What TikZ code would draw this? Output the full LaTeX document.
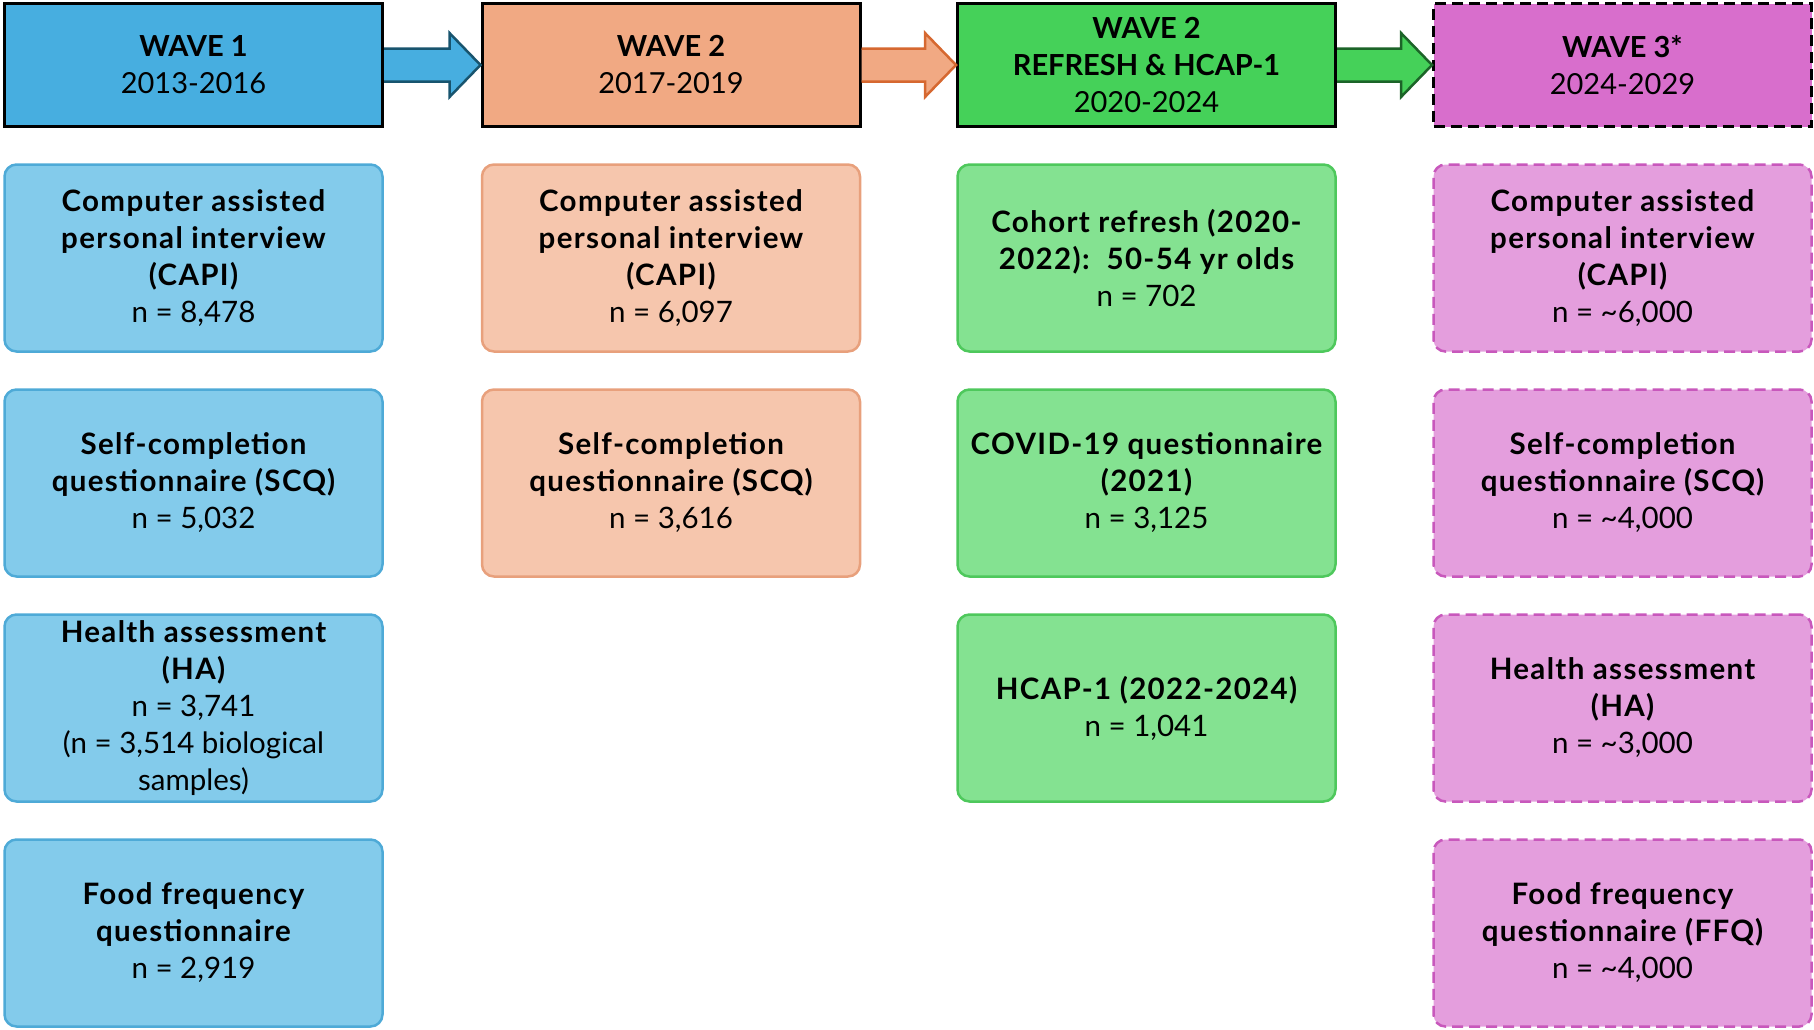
\documentclass[tikz,border=0pt]{standalone}
\usepackage{fontspec}
\setmainfont{Lato}
\newfontfamily\boxfont{Lato}[BoldFeatures={LetterSpace=4.5}]
\usetikzlibrary{calc}

\definecolor{oneHead}{RGB}{71,174,224}
\definecolor{oneBox}{RGB}{131,203,235}
\definecolor{oneLine}{RGB}{78,170,215}
\definecolor{oneArrow}{RGB}{24,84,110}
\definecolor{twoHead}{RGB}{241,169,131}
\definecolor{twoBox}{RGB}{246,198,173}
\definecolor{twoLine}{RGB}{232,160,124}
\definecolor{twoArrow}{RGB}{214,104,48}
\definecolor{refHead}{RGB}{69,209,89}
\definecolor{refBox}{RGB}{132,226,145}
\definecolor{refLine}{RGB}{78,200,92}
\definecolor{refArrow}{RGB}{28,100,40}
\definecolor{threeHead}{RGB}{216,110,204}
\definecolor{threeBox}{RGB}{228,158,221}
\definecolor{threeLine}{RGB}{200,88,188}

\tikzset{
  wavehead/.style={draw=black, line width=3pt, minimum width=378pt, minimum height=123pt,
    inner sep=0pt, align=center, font=\fontsize{29}{37}\selectfont\bfseries},
  wavebox/.style={rounded corners=12pt, line width=2.5pt, minimum width=378pt, minimum height=187pt,
    inner sep=0pt, align=center, font=\boxfont\fontsize{29.5}{37}\selectfont\bfseries},
  planned/.style={dash pattern=on 11pt off 6pt},
}

% block arrow between two header nodes
\newcommand{\wavearrow}[4]{%
  \draw[draw=#4, fill=#3, line width=2.5pt, line join=miter] let \p1=(#1.east), \p2=(#2.west) in
    (\x1,\y1+16.5pt) -- (\x2-31pt,\y1+16.5pt) -- (\x2-31pt,\y1+32pt) -- (\x2,\y1)
    -- (\x2-31pt,\y1-32pt) -- (\x2-31pt,\y1-16.5pt) -- (\x1,\y1-16.5pt);}

\begin{document}
\begin{tikzpicture}[x=1pt,y=1pt,yscale=-1]
\useasboundingbox (0,0) rectangle (1814,1029);

%Headers
\node [wavehead, fill=oneHead] (wone) at (193.5,65) {WAVE 1\\\mdseries 2013-2016};
\node [wavehead, fill=twoHead] (wtwo) at (671,65) {WAVE 2\\\mdseries 2017-2019};
\node [wavehead, fill=refHead] (wref) at (1146.5,65) {WAVE 2\\REFRESH \& HCAP-1\\\mdseries 2020-2024};
\node [wavehead, planned, fill=threeHead] (wthree) at (1622.5,65) {WAVE 3*\\\mdseries 2024-2029};

%Arrows
\wavearrow{wone}{wtwo}{oneHead}{oneArrow}
\wavearrow{wtwo}{wref}{twoHead}{twoArrow}
\wavearrow{wref}{wthree}{refHead}{refArrow}

%Wave 1 boxes
\node [wavebox, fill=oneBox, draw=oneLine] (onecapi) at (193.5,258) {Computer assisted\\personal interview\\(CAPI)\\\mdseries n = 8,478};
\node [wavebox, fill=oneBox, draw=oneLine] (onescq) at (193.5,483) {Self-completion\\questionnaire (SCQ)\\\mdseries n = 5,032};
\node [wavebox, fill=oneBox, draw=oneLine] (oneha) at (193.5,708) {Health assessment\\(HA)\\\mdseries n = 3,741\\\mdseries (n = 3,514 biological\\\mdseries samples)};
\node [wavebox, fill=oneBox, draw=oneLine] (oneffq) at (193.5,933) {Food frequency\\questionnaire\\\mdseries n = 2,919};

%Wave 2 boxes
\node [wavebox, fill=twoBox, draw=twoLine] (twocapi) at (671,258) {Computer assisted\\personal interview\\(CAPI)\\\mdseries n = 6,097};
\node [wavebox, fill=twoBox, draw=twoLine] (twoscq) at (671,483) {Self-completion\\questionnaire (SCQ)\\\mdseries n = 3,616};

%Wave 2 refresh boxes
\node [wavebox, fill=refBox, draw=refLine] (refcohort) at (1146.5,258) {Cohort refresh (2020-\\2022):\ \ 50-54 yr olds\\\mdseries n = 702};
\node [wavebox, fill=refBox, draw=refLine] (refcovid) at (1146.5,483) {COVID-19 questionnaire\\(2021)\\\mdseries n = 3,125};
\node [wavebox, fill=refBox, draw=refLine] (refhcap) at (1146.5,708) {HCAP-1 (2022-2024)\\\mdseries n = 1,041};

%Wave 3 boxes
\node [wavebox, planned, fill=threeBox, draw=threeLine] (threecapi) at (1622.5,258) {Computer assisted\\personal interview\\(CAPI)\\\mdseries n = \textasciitilde 6,000};
\node [wavebox, planned, fill=threeBox, draw=threeLine] (threescq) at (1622.5,483) {Self-completion\\questionnaire (SCQ)\\\mdseries n = \textasciitilde 4,000};
\node [wavebox, planned, fill=threeBox, draw=threeLine] (threeha) at (1622.5,708) {Health assessment\\(HA)\\\mdseries n = \textasciitilde 3,000};
\node [wavebox, planned, fill=threeBox, draw=threeLine] (threeffq) at (1622.5,933) {Food frequency\\questionnaire (FFQ)\\\mdseries n = \textasciitilde 4,000};

\end{tikzpicture}
\end{document}
